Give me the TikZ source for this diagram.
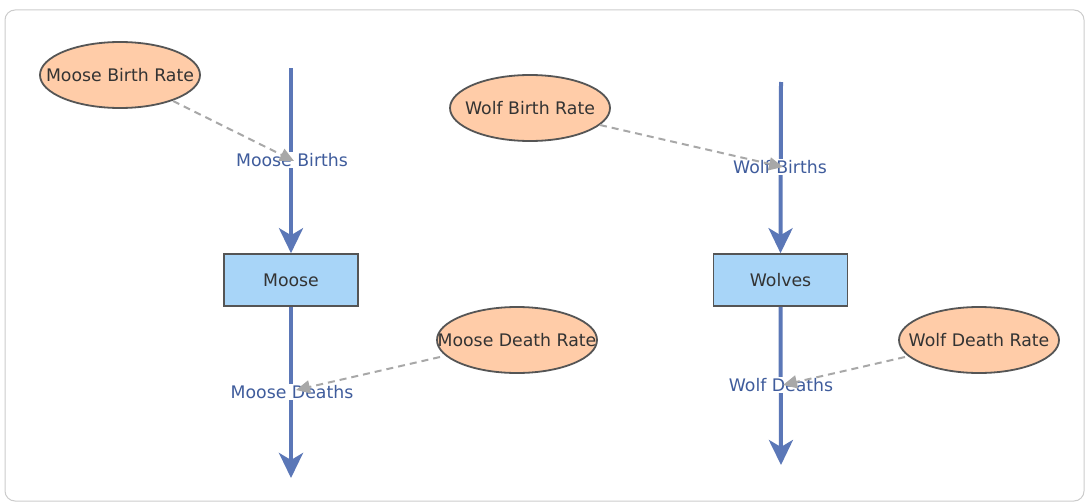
\documentclass[tikz,border=0pt]{standalone}
\usepackage{fontspec}
\setmainfont{DejaVu Sans}
\usetikzlibrary{arrows.meta,shapes.geometric}
\definecolor{frame}{HTML}{CCCCCC}
\definecolor{peach}{HTML}{FFCCA8}
\definecolor{edge}{HTML}{555555}
\definecolor{stockfill}{HTML}{A8D5F8}
\definecolor{flow}{HTML}{5B77B7}
\definecolor{flowtext}{HTML}{3F5C9C}
\definecolor{link}{HTML}{A8A8A8}
\definecolor{ink}{HTML}{333333}
\newcommand{\fixw}[1]{\makebox[0pt]{#1}}
\tikzset{
  aux/.style={ellipse, draw=edge, line width=1.8pt, fill=peach, minimum width=160pt, minimum height=66pt, inner sep=0pt, font=\fontsize{17.3}{19}\selectfont, text=ink},
  stock/.style={rectangle, draw=edge, line width=1.6pt, fill=stockfill, minimum width=134pt, minimum height=52pt, inner sep=0pt, font=\fontsize{17.3}{19}\selectfont, text=ink},
  flowlbl/.style={fill=white, inner sep=1.5pt, font=\fontsize{17.3}{19}\selectfont, text=flowtext},
  flowline/.style={draw=flow, line width=4pt, -{Stealth[length=25pt,width=24pt,inset=7pt]}},
  linkline/.style={draw=link, line width=2pt, dash pattern=on 7pt off 5pt, -{Triangle[length=14pt,width=13pt]}}
}
\begin{document}
\begin{tikzpicture}[x=1pt,y=-1pt]
\useasboundingbox (0,0) rectangle (1086,503);
\draw[frame, line width=1pt, fill=white, rounded corners=10pt] (5,10) rectangle (1084,501);

% coordinates
\coordinate (mtop) at (291,68);
\coordinate (mbot) at (291,478);
\coordinate (wtop) at (781,82);
\coordinate (wbot) at (781,465);

% stocks
\node[stock] (moose) at (291,280) {Moose};
\node[stock] (wolves) at (780.5,280) {Wolves};

% flows
\draw[flowline] (mtop) -- (moose.north);
\draw[flowline] (moose.south) -- (mbot);
\draw[flowline] (wtop) -- (wolves.north);
\draw[flowline] (wolves.south) -- (wbot);

% flow labels
\node[flowlbl] (mb) at (292,160) {Moose Births};
\node[flowlbl] (md) at (292,392) {Moose Deaths};
\node[flowlbl] (wb) at (780,167) {Wolf Births};
\node[flowlbl] (wd) at (781,385) {Wolf Deaths};

% auxiliaries
\node[aux] (mbr) at (120,75) {\fixw{Moose Birth Rate}};
\node[aux] (mdr) at (517,340) {\fixw{Moose Death Rate}};
\node[aux] (wbr) at (530,108) {\fixw{Wolf Birth Rate}};
\node[aux] (wdr) at (979,340) {\fixw{Wolf Death Rate}};

% links
\coordinate (mbe) at (294,161);
\coordinate (wbe) at (783,167);
\coordinate (mde) at (296,390);
\coordinate (wde) at (783,385);
\draw[linkline] (mbr) ++(53,26) coordinate (mbs) (mbs) -- (mbe);
\draw[linkline] (wbr) ++(70,17) coordinate (wbs) (wbs) -- (wbe);
\draw[linkline] (mdr) ++(-77,17) coordinate (mds) (mds) -- (mde);
\draw[linkline] (wdr) ++(-74,17) coordinate (wds) (wds) -- (wde);
\end{tikzpicture}
\end{document}
